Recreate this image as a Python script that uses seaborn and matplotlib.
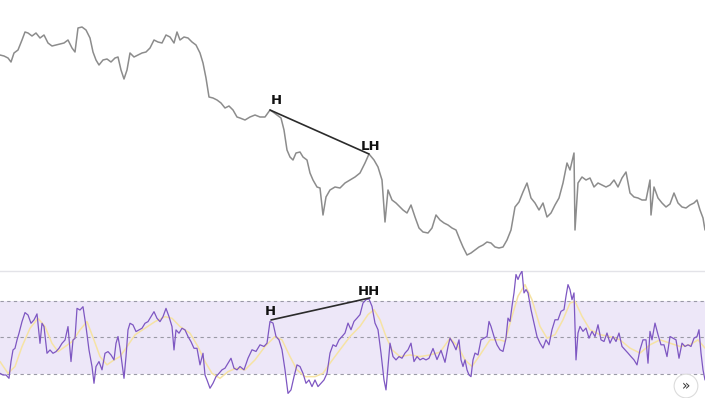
import numpy as np
import pandas as pd
import matplotlib
matplotlib.use("Agg")
import matplotlib.pyplot as plt
import seaborn as sns

# ---------------- data ----------------
price_bar = [0, 4, 8, 11, 14, 18, 22, 25, 28, 32, 36, 40, 44, 48, 52, 56, 60, 64, 68, 72, 75, 78, 82, 86, 90,
             93, 96, 99, 103, 107, 111, 115, 118, 121, 124, 127, 130, 134, 138, 142, 146, 150, 154, 158, 162,
             166, 170, 174, 177, 180, 184, 188, 192, 196, 200, 203, 206, 209, 213, 217, 221, 225, 229, 233,
             237, 240, 245, 250, 255, 260, 265, 270, 273, 277, 281, 284, 287, 290, 293, 296, 300, 303, 307,
             310, 313, 317, 320, 323, 326, 330, 335, 340, 345, 350, 355, 360, 365, 369, 374, 378, 382, 385,
             388, 392, 396, 400, 403, 407, 411, 415, 419, 423, 428, 432, 436, 440, 444, 448, 452, 456, 460,
             463, 467, 471, 475, 479, 483, 487, 491, 495, 499, 503, 507, 511, 515, 519, 523, 527, 531, 535,
             539, 543, 547, 551, 555, 559, 563, 567, 570, 574, 575, 578, 582, 586, 590, 594, 598, 602, 606,
             610, 614, 618, 622, 626, 630, 634, 638, 642, 646, 650, 651, 654, 658, 662, 666, 670, 674, 678,
             682, 686, 690, 694, 697, 700, 703, 705]
price = [215, 214, 212, 208, 217, 220, 230, 238, 237, 234, 237, 232, 235, 227, 224, 225, 226, 227, 230, 222,
         218, 242, 243, 240, 232, 218, 210, 205, 210, 211, 208, 212, 213, 200, 191, 200, 217, 213, 215, 217,
         218, 222, 230, 228, 227, 235, 233, 227, 238, 230, 233, 232, 228, 225, 217, 207, 192, 173, 172, 170,
         167, 162, 164, 160, 153, 152, 150, 153, 155, 153, 153, 160, 158, 155, 152, 140, 120, 113, 110, 117,
         118, 113, 110, 97, 90, 83, 82, 55, 73, 80, 83, 82, 87, 90, 93, 97, 107, 116, 110, 103, 90, 48, 80,
         70, 67, 63, 60, 57, 65, 53, 42, 38, 37, 42, 55, 50, 47, 45, 42, 40, 30, 23, 15, 17, 20, 23, 25, 28,
         27, 23, 22, 23, 30, 40, 63, 68, 78, 87, 72, 67, 60, 67, 53, 57, 65, 72, 87, 107, 100, 117, 40, 87,
         93, 90, 92, 83, 87, 85, 83, 85, 90, 83, 92, 98, 77, 73, 72, 70, 70, 90, 55, 83, 72, 67, 63, 66, 77,
         67, 63, 62, 65, 67, 70, 60, 52, 40]

rsi_bar = [0, 3, 6, 9, 11, 13, 15, 17, 19, 22, 25, 28, 31, 34, 37, 40, 42, 44, 47, 50, 53, 56, 59, 62, 65,
           68, 71, 73, 75, 77, 80, 83, 86, 89, 92, 94, 96, 99, 102, 105, 108, 111, 114, 116, 118, 120, 122,
           124, 126, 128, 130, 133, 136, 139, 142, 145, 148, 151, 154, 157, 160, 163, 166, 169, 172, 174,
           176, 179, 182, 185, 188, 191, 194, 197, 200, 203, 205, 207, 210, 213, 216, 219, 222, 225, 228,
           231, 234, 237, 240, 244, 248, 252, 256, 260, 264, 267, 270, 273, 276, 279, 282, 285, 288, 291,
           294, 297, 300, 303, 306, 309, 312, 315, 318, 321, 324, 327, 330, 333, 336, 339, 342, 345, 348,
           351, 354, 357, 360, 363, 366, 369, 372, 375, 378, 381, 384, 386, 388, 390, 393, 396, 399, 402,
           405, 408, 411, 414, 417, 420, 423, 426, 429, 433, 437, 441, 445, 448, 450, 453, 456, 459, 461,
           463, 465, 467, 469, 471, 473, 475, 478, 481, 484, 487, 489, 491, 494, 497, 500, 503, 506, 508,
           510, 512, 514, 516, 518, 520, 522, 524, 526, 528, 531, 534, 537, 540, 543, 546, 549, 552, 555,
           558, 561, 564, 566, 568, 570, 572, 574, 575, 576, 578, 580, 583, 586, 589, 592, 595, 598, 601,
           604, 607, 610, 613, 616, 619, 622, 625, 628, 631, 634, 637, 640, 643, 646, 648, 650, 652, 655,
           658, 661, 664, 667, 670, 673, 676, 679, 682, 685, 688, 691, 694, 697, 699, 701, 703, 705]
rsi = [30.5, 29.6, 29.6, 27.8, 36.9, 43.2, 44.1, 48.6, 52.3, 58.6, 63.5, 62.2, 57.7, 59.5, 62.8, 46.8, 57.7,
       55.9, 41.4, 43.2, 41.4, 42.3, 44.1, 46.8, 48.6, 55.9, 36.9, 48.6, 49.5, 65.8, 64.9, 66.7, 55.9, 43.2,
       34.2, 25.1, 34.2, 36.9, 32.4, 41.4, 42.3, 40.5, 37.8, 46.8, 50.5, 44.1, 36.0, 27.8, 39.6, 54.1, 57.7,
       56.8, 53.2, 54.1, 55.0, 57.7, 58.6, 61.3, 64.0, 60.4, 58.6, 61.3, 65.8, 61.3, 55.9, 43.2, 54.1, 52.3,
       55.0, 54.1, 50.5, 47.7, 44.1, 44.1, 35.1, 41.4, 29.6, 26.9, 22.4, 25.1, 28.7, 30.5, 32.4, 33.3, 36.0,
       38.7, 33.3, 32.4, 34.2, 32.4, 38.7, 43.3, 42.4, 46.0, 45.1, 46.9, 58.7, 57.8, 50.5, 48.7, 43.3, 32.4,
       19.6, 21.5, 28.7, 35.1, 34.2, 30.5, 25.1, 26.9, 23.3, 26.9, 23.3, 25.1, 26.9, 30.5, 41.5, 46.0, 45.1,
       48.7, 50.5, 52.4, 57.8, 54.2, 58.7, 60.5, 62.4, 68.7, 70.5, 70.9, 66.9, 57.8, 54.2, 41.5, 26.9, 21.5,
       34.2, 46.9, 39.6, 37.8, 39.6, 38.7, 41.5, 43.3, 46.9, 36.9, 39.6, 37.8, 38.7, 37.8, 38.7, 44.0, 38.0,
       43.0, 36.5, 45.0, 49.6, 46.9, 43.3, 48.7, 37.8, 34.2, 37.8, 32.4, 29.6, 28.7, 37.8, 41.5, 40.5, 48.7,
       49.6, 50.5, 58.7, 56.0, 50.5, 46.0, 43.3, 42.4, 49.6, 60.5, 58.7, 66.9, 74.2, 84.2, 81.5, 84.2, 86.0,
       74.2, 76.0, 74.2, 65.1, 57.8, 50.5, 46.9, 44.2, 48.7, 46.0, 54.2, 59.6, 59.6, 64.2, 65.1, 72.4, 78.7,
       76.0, 70.5, 74.2, 56.0, 37.8, 52.4, 56.0, 53.3, 55.1, 49.6, 53.3, 50.5, 56.9, 48.7, 47.8, 52.4, 46.9,
       50.5, 47.8, 52.4, 45.1, 43.3, 41.5, 39.6, 37.8, 35.1, 43.3, 48.7, 48.7, 36.0, 53.3, 48.7, 57.8, 51.5,
       46.0, 46.0, 39.6, 50.5, 49.6, 48.7, 38.7, 46.9, 45.1, 46.0, 45.1, 49.6, 50.5, 54.2, 41.5, 32.4, 26.9]

ma_bar = [0, 8, 15, 22, 30, 38, 45, 52, 58, 65, 72, 80, 87, 94, 100, 107, 114, 120, 127, 135, 145, 155, 165,
          172, 180, 190, 198, 205, 212, 220, 228, 236, 245, 255, 265, 275, 282, 290, 297, 305, 315, 323, 330,
          340, 350, 360, 368, 374, 380, 386, 392, 400, 410, 420, 430, 440, 450, 458, 465, 472, 480, 490, 500,
          505, 512, 518, 525, 532, 540, 547, 555, 563, 570, 575, 582, 590, 600, 610, 620, 630, 640, 650, 660,
          670, 680, 690, 698, 705]
rsi_ma = [36.9, 30.5, 34.2, 45.0, 55.0, 60.4, 55.9, 46.8, 42.3, 45.0, 47.7, 54.1, 58.6, 48.6, 39.6, 35.1,
          37.8, 39.6, 45.0, 51.4, 55.0, 58.6, 61.3, 60.4, 55.9, 52.3, 45.0, 36.9, 30.5, 27.8, 31.4, 33.3, 32.4,
          37.8, 45.1, 50.5, 48.7, 39.6, 32.4, 28.7, 28.7, 30.5, 36.0, 43.3, 50.5, 56.0, 62.4, 65.1, 59.6, 50.5,
          43.3, 39.6, 40.5, 39.6, 40.5, 42.0, 49.6, 45.1, 37.8, 34.2, 40.5, 48.7, 48.7, 47.8, 61.5, 72.4, 78.7,
          70.5, 56.0, 49.6, 51.5, 59.6, 68.7, 69.6, 61.5, 54.2, 51.5, 50.5, 48.7, 44.2, 41.5, 46.0, 48.7, 46.9,
          45.1, 46.0, 48.7, 44.2]

rsi_levels = [70, 50, 30]

# ---------------- figure ----------------
sns.set_style("white")
plt.rcParams['font.family'] = ['DejaVu Sans']

W, H = 705, 398
fig = plt.figure(figsize=(W / 100, H / 100), dpi=100)
fig.patch.set_facecolor("white")

ax_p = fig.add_axes([0, 1 - 270 / H, 1, 270 / H])
ax_r = fig.add_axes([0, 0, 1, 127 / H])

price_df = pd.DataFrame({"bar": price_bar, "price": price})
rsi_df = pd.DataFrame({"bar": rsi_bar, "rsi": rsi})
ma_df = pd.DataFrame({"bar": ma_bar, "ma": rsi_ma})

sns.lineplot(data=price_df, x="bar", y="price", ax=ax_p, color="#8c8c8c", linewidth=1.1,
             sort=False, estimator=None)
ax_p.set_xlim(0, 705)
ax_p.set_ylim(0, 270)
ax_p.axis("off")

# price annotations
ax_p.plot([270, 369], [160, 116], color="#2b2b2b", linewidth=1.2)
ax_p.text(276, 169, "H", ha="center", va="center", fontsize=9.5, color="#111111", fontweight="bold")
ax_p.text(371, 123, "LH", ha="center", va="center", fontsize=9.5, color="#111111", fontweight="bold")

# RSI pane
ax_r.axhspan(rsi_levels[2], rsi_levels[0], color="#ede7f8", zorder=0, linewidth=0)
for lv in rsi_levels:
    ax_r.axhline(lv, color="#9a9aa6", linestyle=(0, (3, 3)), linewidth=0.8, zorder=1)
sns.lineplot(data=ma_df, x="bar", y="ma", ax=ax_r, color="#f6e3a4", linewidth=1.1,
             sort=False, estimator=None, zorder=2)
sns.lineplot(data=rsi_df, x="bar", y="rsi", ax=ax_r, color="#7e57c2", linewidth=0.9,
             sort=False, estimator=None, zorder=3)
ax_r.set_xlim(0, 705)
ax_r.set_ylim(17.1, 86.1)
ax_r.set_xticks([])
ax_r.set_yticks([])
ax_r.set_xlabel("")
ax_r.set_ylabel("")
for s in ["left", "right", "bottom"]:
    ax_r.spines[s].set_visible(False)
ax_r.spines["top"].set_color("#e3e3e8")
ax_r.spines["top"].set_linewidth(1.0)

ax_r.plot([271, 370], [59.5, 71.5], color="#2b2b2b", linewidth=1.2, zorder=4)
ax_r.text(270, 64.0, "H", ha="center", va="center", fontsize=9.5, color="#111111", fontweight="bold")
ax_r.text(369, 75.2, "HH", ha="center", va="center", fontsize=9.5, color="#111111", fontweight="bold")

# scroll button
fig.text(686 / W, 1 - 386 / H, "»", ha="center", va="center", fontsize=10, color="#333333",
         bbox=dict(boxstyle="circle,pad=0.35", facecolor="white", edgecolor="#dcdcdc", linewidth=0.8))

fig.savefig("out.png", dpi=100, facecolor="white")
